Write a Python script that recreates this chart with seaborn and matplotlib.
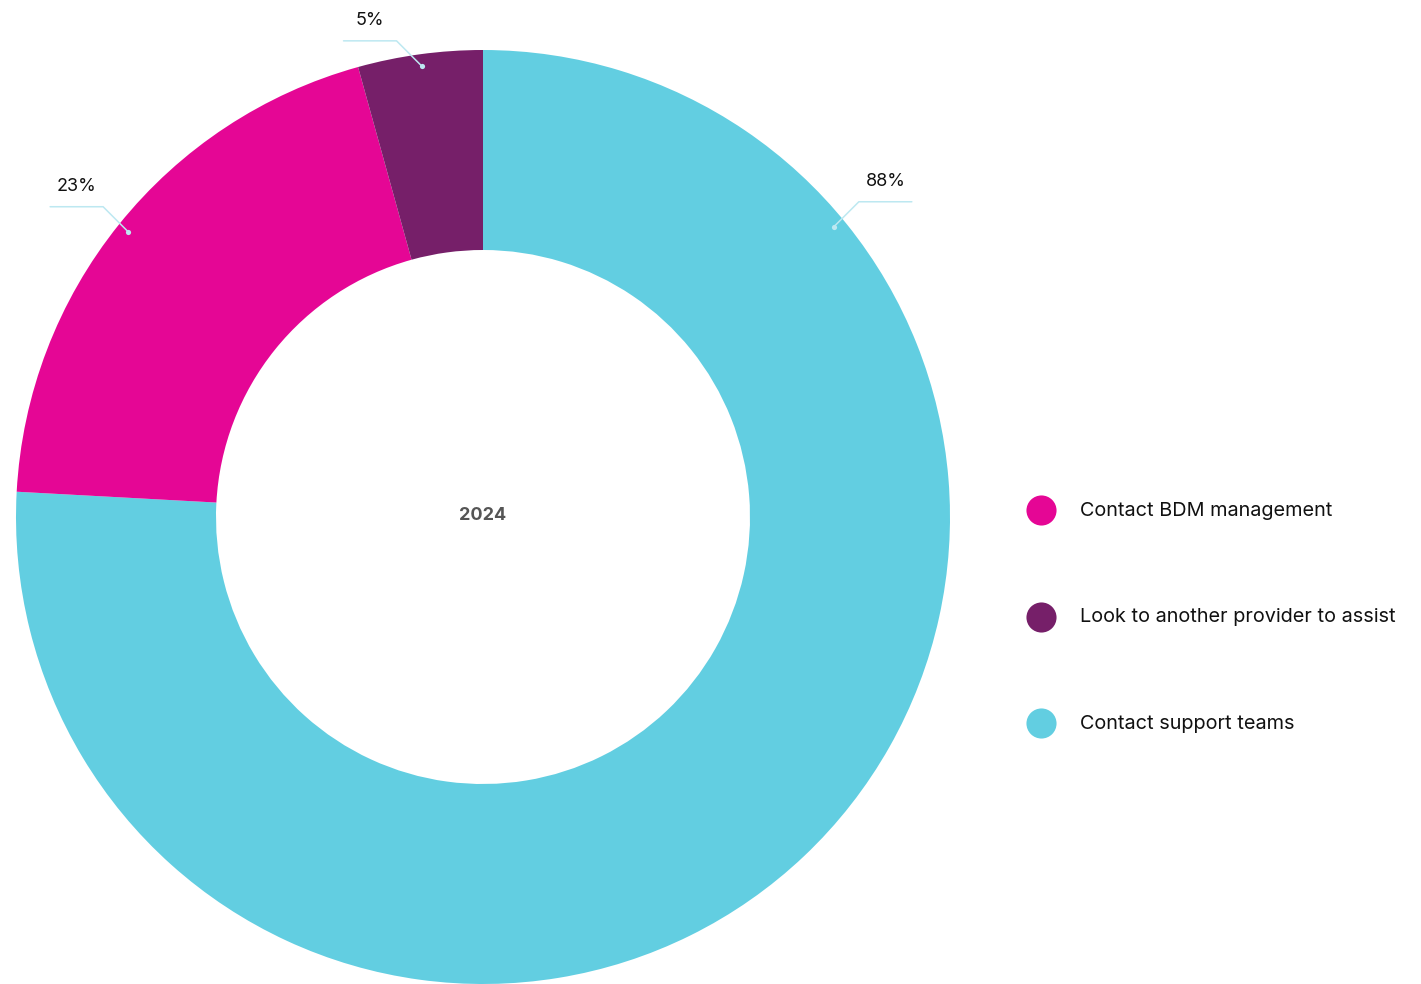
import numpy as np
import matplotlib
matplotlib.use("Agg")
import matplotlib.pyplot as plt
import seaborn as sns

# Survey responses (percent of respondents; multiple answers allowed)
categories = ["Contact support teams", "Contact BDM management", "Look to another provider to assist"]
values = [88, 23, 5]
colors = ["#62CEE1", "#E50695", "#761F69"]
legend_order = ["Contact BDM management", "Look to another provider to assist", "Contact support teams"]
center_label = "2024"

sns.set_theme(style="white")
plt.rcParams["font.family"] = ["Inter", "DejaVu Sans"]

W, H = 1421, 984
fig = plt.figure(figsize=(W / 100, H / 100), dpi=100)
ax = fig.add_axes([0, 0, 1, 1])

cx, cy = 483, H - 517
R = 467
ring = 200

wedges, _ = ax.pie(values, colors=colors, startangle=90, counterclock=False,
                   radius=R, center=(cx, cy),
                   wedgeprops=dict(width=ring, linewidth=0))

ax.set_xlim(0, W)
ax.set_ylim(0, H)
ax.set_aspect("equal")
ax.axis("off")

ax.text(cx, cy + 1, center_label, ha="center", va="center", fontsize=13,
        fontweight="bold", color="#555555")

# Leader lines with value labels
line_col = "#BDE8F1"
anchor_override = {0: 39.6}
for i, (w, v) in enumerate(zip(wedges, values)):
    ang = anchor_override.get(i, (w.theta1 + w.theta2) / 2)
    a = np.deg2rad(ang)
    px, py = cx + 0.975 * R * np.cos(a), cy + 0.975 * R * np.sin(a)
    side = 1 if np.cos(a) >= 0 else -1
    kx, ky = px + side * 25, py + 25
    ex = kx + side * 53
    ax.plot([px, kx, ex], [py, ky, ky], color=line_col, lw=1.1, zorder=3)
    ax.scatter([px], [py], s=14, color=line_col, zorder=4, linewidths=0)
    ax.text((kx + ex) / 2, ky + 20, f"{v}%", ha="center", va="center",
            fontsize=13, color="#111111")

# Legend
col_of = dict(zip(categories, colors))
for j, name in enumerate(legend_order):
    ly = H - (510 + j * 106.5)
    ax.scatter([1041], [ly], s=470, color=col_of[name], linewidths=0, zorder=4)
    ax.text(1080, ly - 1, name, ha="left", va="center", fontsize=14.3, color="#111111")

fig.savefig("out.png", dpi=100, facecolor="white")
